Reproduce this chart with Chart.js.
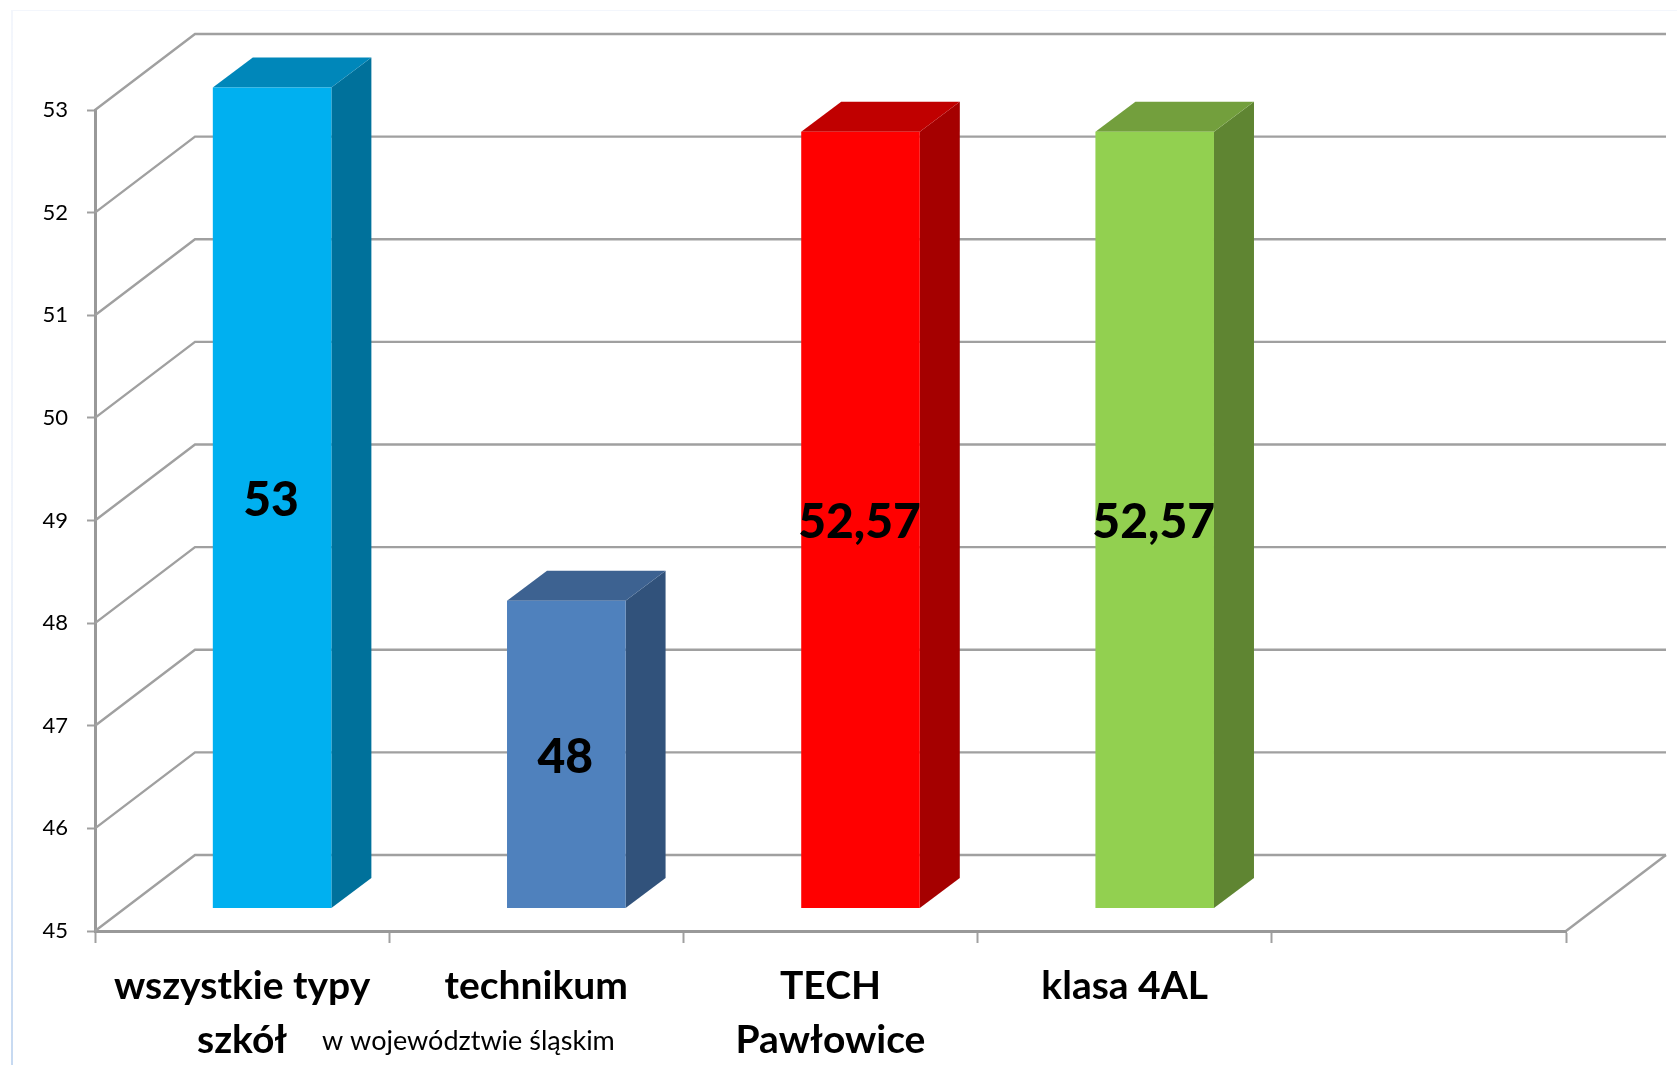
<!DOCTYPE html>
<html lang="pl">
<head>
<meta charset="utf-8">
<title>Wyniki</title>
<script src="https://cdn.jsdelivr.net/npm/chart.js@4/dist/chart.umd.min.js"></script>
<style>
  html, body { margin: 0; padding: 0; background: #fff; overflow: hidden; }
  #frame {
    position: absolute; left: 11px; top: 10px; width: 1666px; height: 1055px;
    box-sizing: border-box; border-style: solid; border-width: 1px 0 0 2px;
    border-image: linear-gradient(to bottom, #f3f6fc, #f0f4fb 50%, #c6d9f1) 1;
  }
  canvas { position: absolute; left: 0; top: 0; }
</style>
</head>
<body>
<div id="frame"></div>
<canvas id="wyniki" width="1677" height="1065"></canvas>
<script>
const categories = [['wszystkie typy', 'szkół'], 'technikum', ['TECH', 'Pawłowice'], 'klasa 4AL', ''];
const values = [53, 48, 52.57, 52.57, null];
const yTicks = [45, 46, 47, 48, 49, 50, 51, 52, 53];

const frontColors = ['#00B0F0', '#4F81BD', '#FF0000', '#92D050'];
const sideColors = ['#00719B', '#31527B', '#A50000', '#5F8532'];
const topColors = ['#0087BA', '#3D6291', '#C00000', '#739F3D'];

const fontName = 'Lato, "Open Sans", sans-serif';
const gridColor = '#A0A0A0';

// wall and floor depth of the fake 3D box
const wallX = 100, wallY = 76;
// bars stand part way into the floor, and have their own depth
const barX = 30, barY = 22.5;
const depthX = 40, depthY = 30;

const box3d = {
  id: 'box3d',
  beforeDatasetsDraw(chart) {
    const { ctx, chartArea, scales } = chart;
    ctx.save();
    ctx.strokeStyle = gridColor;
    ctx.lineWidth = 2.4;
    yTicks.forEach((t) => {
      const y = scales.y.getPixelForValue(t);
      ctx.beginPath();
      ctx.moveTo(chartArea.left, y);
      ctx.lineTo(chartArea.left + wallX, y - wallY);
      ctx.lineTo(chartArea.right + wallX, y - wallY);
      ctx.stroke();
    });
    // right edge of the floor
    ctx.beginPath();
    ctx.moveTo(chartArea.right, chartArea.bottom);
    ctx.lineTo(chartArea.right + wallX, chartArea.bottom - wallY);
    ctx.stroke();
    ctx.restore();
  },
  beforeDatasetDraw(chart, args) {
    const { ctx } = chart;
    ctx.save();
    ctx.translate(barX, -barY);
    args.meta.data.forEach((bar, i) => {
      if (values[i] === null) return;
      const p = bar.getProps(['x', 'y', 'base', 'width'], true);
      const l = p.x - p.width / 2, r = p.x + p.width / 2;
      ctx.fillStyle = sideColors[i];
      ctx.beginPath();
      ctx.moveTo(r, p.y);
      ctx.lineTo(r + depthX, p.y - depthY);
      ctx.lineTo(r + depthX, p.base - depthY);
      ctx.lineTo(r, p.base);
      ctx.closePath();
      ctx.fill();
      ctx.fillStyle = topColors[i];
      ctx.beginPath();
      ctx.moveTo(l, p.y);
      ctx.lineTo(l + depthX, p.y - depthY);
      ctx.lineTo(r + depthX, p.y - depthY);
      ctx.lineTo(r, p.y);
      ctx.closePath();
      ctx.fill();
    });
  },
  afterDatasetDraw(chart, args) {
    const { ctx } = chart;
    // value labels on the bar fronts, still in the shifted position
    ctx.fillStyle = '#000';
    ctx.font = '900 48px ' + fontName;
    ctx.textAlign = 'center';
    ctx.textBaseline = 'middle';
    args.meta.data.forEach((bar, i) => {
      if (values[i] === null) return;
      const p = bar.getProps(['x', 'y', 'base'], true);
      ctx.fillText(String(values[i]).replace('.', ','), p.x - 1, (p.y + p.base) / 2 + 3);
    });
    ctx.restore();
  },
  afterDraw(chart) {
    const { ctx } = chart;
    ctx.save();
    ctx.fillStyle = '#000';
    ctx.font = '27px ' + fontName;
    ctx.textAlign = 'left';
    ctx.textBaseline = 'middle';
    ctx.fillText('w województwie śląskim', 322, 1041);
    ctx.restore();
  }
};

new Chart(document.getElementById('wyniki'), {
  type: 'bar',
  plugins: [box3d],
  data: {
    labels: categories,
    datasets: [{
      data: values,
      base: yTicks[0],
      backgroundColor: frontColors,
      barPercentage: 0.403,
      categoryPercentage: 1,
      clip: false
    }]
  },
  options: {
    responsive: false,
    animation: false,
    devicePixelRatio: 1,
    layout: { padding: { left: 0, top: 110, right: 111, bottom: 0 } },
    plugins: { legend: { display: false }, tooltip: { enabled: false } },
    scales: {
      x: {
        afterFit: (s) => { s.height = 134; },
        border: { color: '#999999', width: 3 },
        grid: { drawOnChartArea: false, tickColor: gridColor, tickWidth: 2, tickLength: 12 },
        ticks: {
          color: '#000',
          autoSkip: false,
          maxRotation: 0,
          padding: 17,
          font: { family: fontName, size: 39, weight: 'bold', lineHeight: 1.37 }
        }
      },
      y: {
        min: 45,
        max: 53,
        afterFit: (s) => { s.width = 95; },
        afterBuildTicks: (s) => { s.ticks = yTicks.map((v) => ({ value: v })); },
        border: { color: '#999999', width: 3 },
        grid: { drawOnChartArea: false, tickColor: gridColor, tickWidth: 2, tickLength: 8 },
        ticks: {
          color: '#000',
          padding: 19,
          font: { family: fontName, size: 22 }
        }
      }
    }
  }
});
</script>
</body>
</html>
